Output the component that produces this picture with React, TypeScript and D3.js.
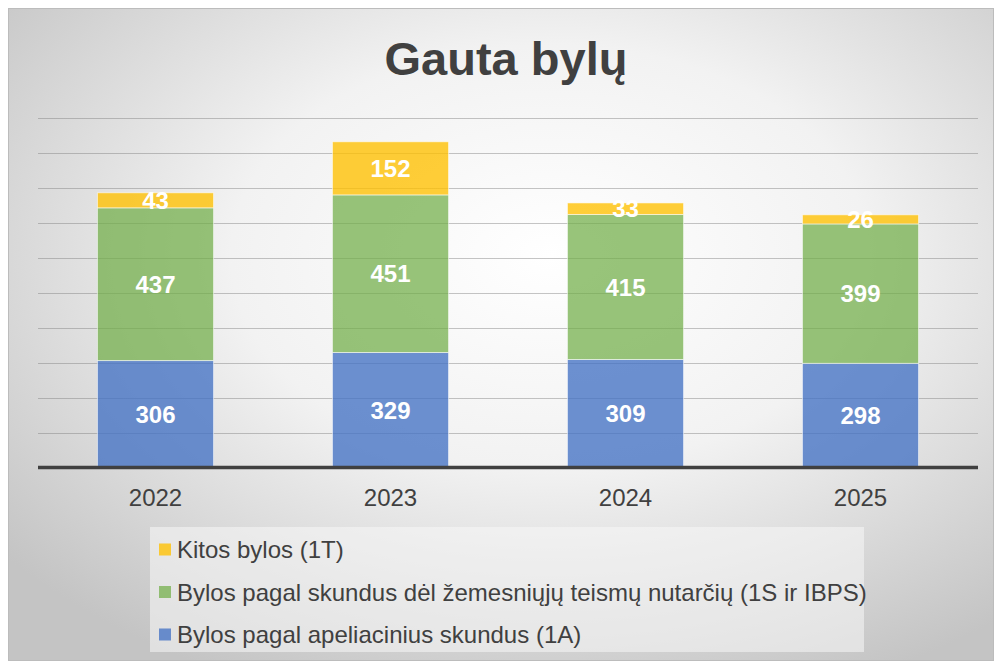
import * as d3 from 'd3'

const years = ['2022', '2023', '2024', '2025']
const appeals1A = [306, 329, 309, 298]
const lowerCourt1S = [437, 451, 415, 399]
const other1T = [43, 152, 33, 26]
const gridTicks = [0, 100, 200, 300, 400, 500, 600, 700, 800, 900, 1000]

const seriesNames = [
    'Bylos pagal apeliacinius skundus (1A)',
    'Bylos pagal skundus dėl žemesniųjų teismų nutarčių (1S ir IBPS)',
    'Kitos bylos (1T)',
]
const seriesColors = ['#4472C4', '#70AD47', '#FFC000']
const seriesOpacity = [0.78, 0.72, 0.78]

const W = 986
const H = 653
const FONT = '"Liberation Sans", Arial, sans-serif'

export default function App() {
    const table = years.map((year, i) => ({
        year,
        a: appeals1A[i],
        s: lowerCourt1S[i],
        t: other1T[i],
    }))
    const stack = d3.stack<any>().keys(['a', 's', 't'])(table)

    const x = d3.scaleBand()
        .domain(years)
        .range([30, 970])
        .paddingInner(0.506)
        .paddingOuter(0.253)
    const y = d3.scaleLinear().domain([0, 1000]).range([459.5, 110])

    // legend goes top to bottom in reverse series order
    const legendOrder = [2, 1, 0]

    return (
        <svg width={W} height={H}
            style={{ position: 'absolute', left: 8, top: 8, fontFamily: FONT }}>
            <defs>
                <radialGradient id="bg" cx="55%" cy="38%" r="72%">
                    <stop offset="0%" stopColor="#ffffff" />
                    <stop offset="45%" stopColor="#f2f2f2" />
                    <stop offset="100%" stopColor="#c4c4c4" />
                </radialGradient>
            </defs>
            <rect x={0.5} y={0.5} width={W - 1} height={H - 1}
                fill="url(#bg)" stroke="#bcbcbc" />

            <text x={498} y={67} textAnchor="middle" fontSize={47}
                fontWeight="bold" fill="#404040">Gauta bylų</text>

            {gridTicks.filter(t => t > 0).map(t => (
                <line key={t} x1={30} x2={970} y1={Math.round(y(t)) + 0.5}
                    y2={Math.round(y(t)) + 0.5} stroke="#7f7f7f"
                    strokeOpacity={0.45} strokeWidth={1} />
            ))}

            {stack.map((layer, si) => (
                <g key={si}>
                    {layer.map((d, i) => {
                        const year = years[i]
                        const top = y(d[1])
                        const bottom = y(d[0])
                        return (
                            <g key={year}>
                                <rect x={x(year)} y={top} width={x.bandwidth()}
                                    height={bottom - top}
                                    fill={seriesColors[si]}
                                    fillOpacity={seriesOpacity[si]}
                                    stroke="#ffffff" strokeOpacity={0.55}
                                    strokeWidth={1} />
                                <text x={(x(year) as number) + x.bandwidth() / 2}
                                    y={(top + bottom) / 2} dy="0.36em"
                                    textAnchor="middle" fontSize={24}
                                    fontWeight="bold" fill="#ffffff">
                                    {d[1] - d[0]}
                                </text>
                            </g>
                        )
                    })}
                </g>
            ))}

            <line x1={30} x2={970} y1={y(0)} y2={y(0)} stroke="#404040"
                strokeWidth={3.5} />

            {years.map(year => (
                <text key={year} x={(x(year) as number) + x.bandwidth() / 2}
                    y={498} textAnchor="middle" fontSize={24}
                    fill="#404040">{year}</text>
            ))}

            <rect x={142} y={519} width={714} height={125} fill="#f7f7f7"
                fillOpacity={0.55} />
            {legendOrder.map((si, row) => {
                const cy = 541.5 + row * 42.5
                return (
                    <g key={si}>
                        <rect x={151} y={cy - 6} width={12} height={12}
                            fill={seriesColors[si]}
                            fillOpacity={seriesOpacity[si]} />
                        <text x={169} y={cy} dy="0.36em" fontSize={24}
                            fill="#404040">{seriesNames[si]}</text>
                    </g>
                )
            })}
        </svg>
    )
}
